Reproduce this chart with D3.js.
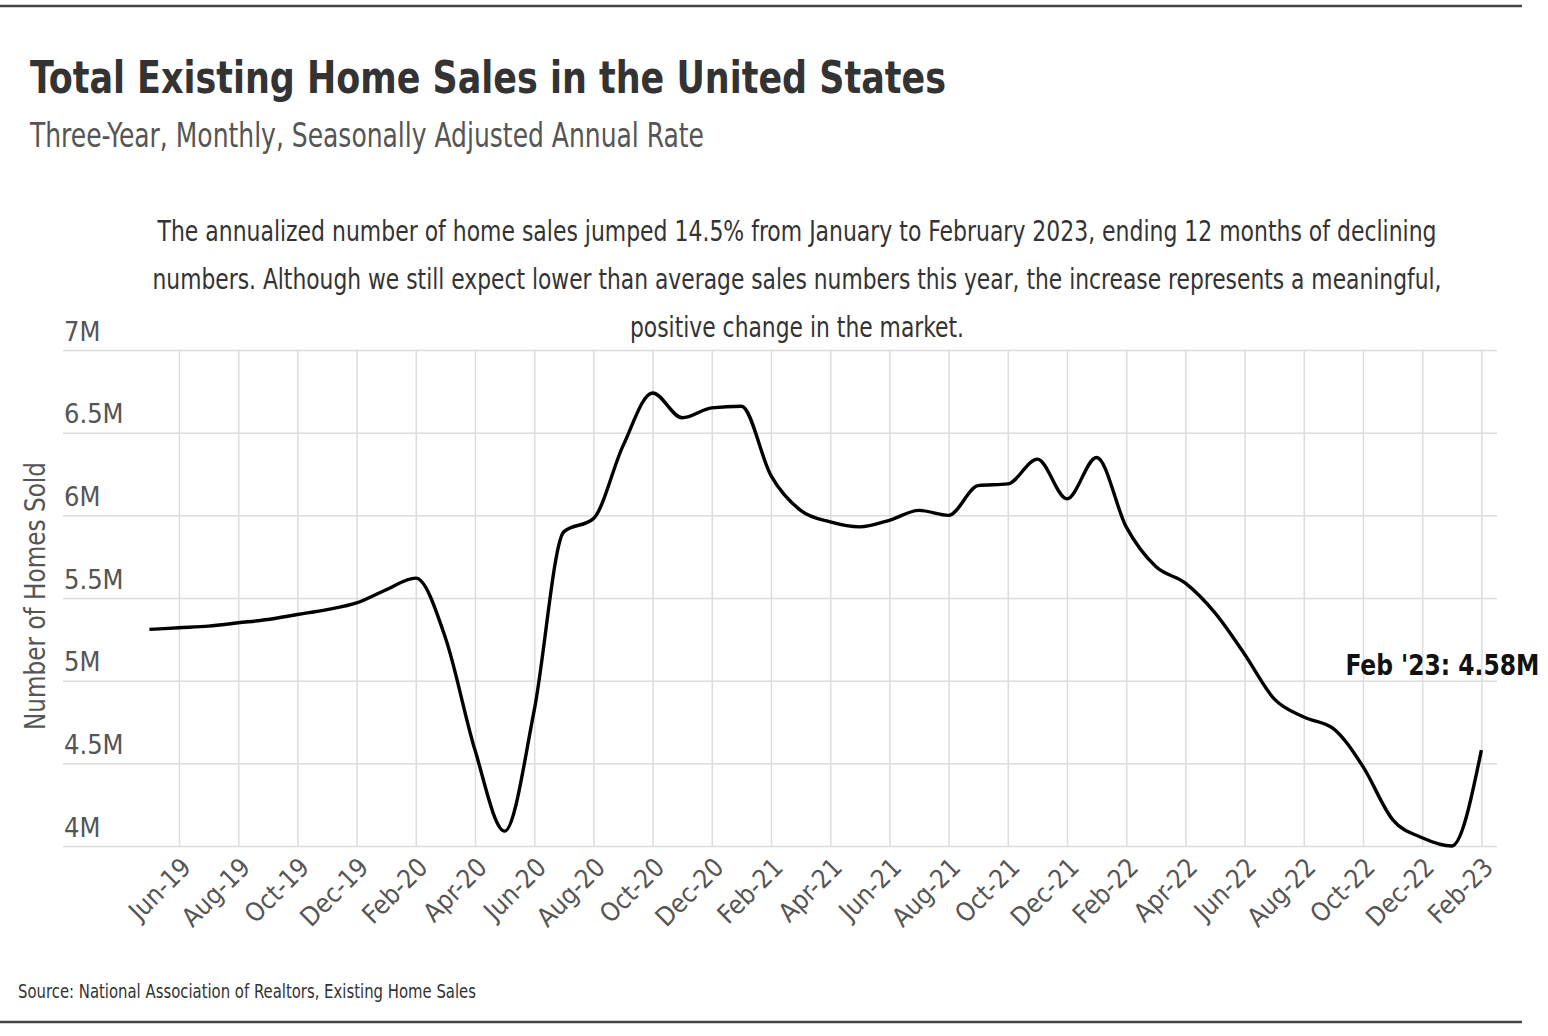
<!DOCTYPE html>
<html>
<head>
<meta charset="utf-8">
<script src="https://cdn.jsdelivr.net/npm/d3@7"></script>
<style>
body { margin: 0; background: #fff; }
text { font-family: "Liberation Sans Narrow", "DejaVu Sans Condensed", "Roboto", sans-serif; }
</style>
</head>
<body>
<div id="chart"></div>
<script>
const WIDTH = 1548;
const HEIGHT = 1036;

const GRID_LEFT = 63;
const GRID_RIGHT = 1497;
const PLOT_TOP = 350;
const PLOT_BOTTOM = 846;
const LINE_LEFT = 149.4;
const LINE_RIGHT = 1481.4;

// monthly, seasonally adjusted annual rate (millions)
var months = ["May-19","Jun-19","Jul-19","Aug-19","Sep-19","Oct-19","Nov-19","Dec-19",
    "Jan-20","Feb-20","Mar-20","Apr-20","May-20","Jun-20","Jul-20","Aug-20","Sep-20","Oct-20","Nov-20","Dec-20",
    "Jan-21","Feb-21","Mar-21","Apr-21","May-21","Jun-21","Jul-21","Aug-21","Sep-21","Oct-21","Nov-21","Dec-21",
    "Jan-22","Feb-22","Mar-22","Apr-22","May-22","Jun-22","Jul-22","Aug-22","Sep-22","Oct-22","Nov-22","Dec-22",
    "Jan-23","Feb-23"];

var sales = [5.31, 5.32, 5.33, 5.35, 5.37, 5.40, 5.43, 5.47,
    5.55, 5.62, 5.26, 4.58, 4.09, 4.82, 5.90, 5.98, 6.42, 6.74, 6.59, 6.65,
    6.66, 6.24, 6.03, 5.96, 5.93, 5.97, 6.03, 6.00, 6.18, 6.19, 6.34, 6.10,
    6.35, 5.93, 5.69, 5.59, 5.41, 5.16, 4.89, 4.78, 4.71, 4.48, 4.16, 4.05,
    4.00, 4.58];

var xTicks = ["Jun-19","Aug-19","Oct-19","Dec-19","Feb-20","Apr-20","Jun-20","Aug-20","Oct-20","Dec-20",
    "Feb-21","Apr-21","Jun-21","Aug-21","Oct-21","Dec-21","Feb-22","Apr-22","Jun-22","Aug-22","Oct-22","Dec-22","Feb-23"];

var yTicks = [4, 4.5, 5, 5.5, 6, 6.5, 7];

var noteLines = [
    "The annualized number of home sales jumped 14.5% from January to February 2023, ending 12 months of declining",
    "numbers. Although we still expect lower than average sales numbers this year, the increase represents a meaningful,",
    "positive change in the market."
];
var noteWidths = [1279, 1289, 334];

var translate = function(x, y){
    return "translate(" + x + "," + y + ")";
};

var svg = d3.select("#chart").append("svg")
    .attr("width", WIDTH)
    .attr("height", HEIGHT);

// frame rules
svg.append("line").attr("x1", 0).attr("x2", 1522).attr("y1", 6).attr("y2", 6)
    .attr("stroke", "#444").attr("stroke-width", 2.5);
svg.append("line").attr("x1", 0).attr("x2", 1522).attr("y1", 1022).attr("y2", 1022)
    .attr("stroke", "#444").attr("stroke-width", 2.5);

// titles
svg.append("text").attr("x", 30).attr("y", 93)
    .attr("font-size", 44).attr("font-weight", "bold").attr("fill", "#333")
    .attr("textLength", 916).attr("lengthAdjust", "spacingAndGlyphs")
    .text("Total Existing Home Sales in the United States");

svg.append("text").attr("x", 30).attr("y", 147)
    .attr("font-size", 33).attr("fill", "#555")
    .attr("textLength", 674).attr("lengthAdjust", "spacingAndGlyphs")
    .text("Three-Year, Monthly, Seasonally Adjusted Annual Rate");

svg.selectAll(".note").data(noteLines).enter().append("text")
    .attr("class", "note")
    .attr("x", 797)
    .attr("y", function(d, i){ return 241 + i * 48; })
    .attr("text-anchor", "middle")
    .attr("font-size", 29).attr("fill", "#333")
    .attr("textLength", function(d, i){ return noteWidths[i]; })
    .attr("lengthAdjust", "spacingAndGlyphs")
    .text(function(d){ return d; });

// scales
var xScale = d3.scalePoint().domain(months).range([LINE_LEFT, LINE_RIGHT]);
var yScale = d3.scaleLinear().domain([4, 7]).range([PLOT_BOTTOM, PLOT_TOP]);

// y axis + horizontal grid
var yAxis = d3.axisLeft(yScale)
    .tickValues(yTicks)
    .tickSize(-(GRID_RIGHT - GRID_LEFT))
    .tickFormat(function(d){ return d + "M"; });

var gy = svg.append("g").attr("transform", translate(GRID_LEFT, 0)).call(yAxis);
gy.select(".domain").remove();
gy.selectAll(".tick line").attr("stroke", "#dcdcdc").attr("stroke-width", 1.5);
gy.selectAll(".tick text")
    .attr("x", 1).attr("dy", -10)
    .attr("text-anchor", "start")
    .attr("font-size", 27).attr("fill", "#555");
gy.attr("font-family", null);

// x axis + vertical grid
var xAxis = d3.axisBottom(xScale)
    .tickValues(xTicks)
    .tickSize(-(PLOT_BOTTOM - PLOT_TOP))
    .tickSizeOuter(0);

var gx = svg.append("g").attr("transform", translate(0, PLOT_BOTTOM)).call(xAxis);
gx.select(".domain").remove();
gx.selectAll(".tick line").attr("stroke", "#dcdcdc").attr("stroke-width", 1.5);
gx.selectAll(".tick text")
    .attr("x", 0).attr("y", 0).attr("dy", 0)
    .attr("transform", "translate(13,23) rotate(-45)")
    .attr("text-anchor", "end")
    .attr("font-size", 26).attr("fill", "#555");
gx.attr("font-family", null);

// y title
svg.append("text")
    .attr("transform", translate(45, 596) + " rotate(-90)")
    .attr("text-anchor", "middle")
    .attr("font-size", 29).attr("fill", "#555")
    .attr("textLength", 268).attr("lengthAdjust", "spacingAndGlyphs")
    .text("Number of Homes Sold");

// the line
var line = d3.line()
    .x(function(d, i){ return xScale(months[i]); })
    .y(function(d){ return yScale(d); })
    .curve(d3.curveMonotoneX);

svg.append("path")
    .attr("d", line(sales))
    .attr("fill", "none")
    .attr("stroke", "#000")
    .attr("stroke-width", 3.4)
    .attr("stroke-linejoin", "round");

// callout for latest value
var last = sales.length - 1;
svg.append("text")
    .attr("x", xScale(months[last]) - 136)
    .attr("y", yScale(sales[last]) - 75)
    .attr("font-size", 29).attr("font-weight", "bold").attr("fill", "#111")
    .attr("textLength", 194).attr("lengthAdjust", "spacingAndGlyphs")
    .text("Feb '23: " + sales[last].toFixed(2) + "M");

// source
svg.append("text").attr("x", 18).attr("y", 998)
    .attr("font-size", 20).attr("fill", "#333")
    .attr("textLength", 458).attr("lengthAdjust", "spacingAndGlyphs")
    .text("Source:  National Association of Realtors, Existing Home Sales");
</script>
</body>
</html>
